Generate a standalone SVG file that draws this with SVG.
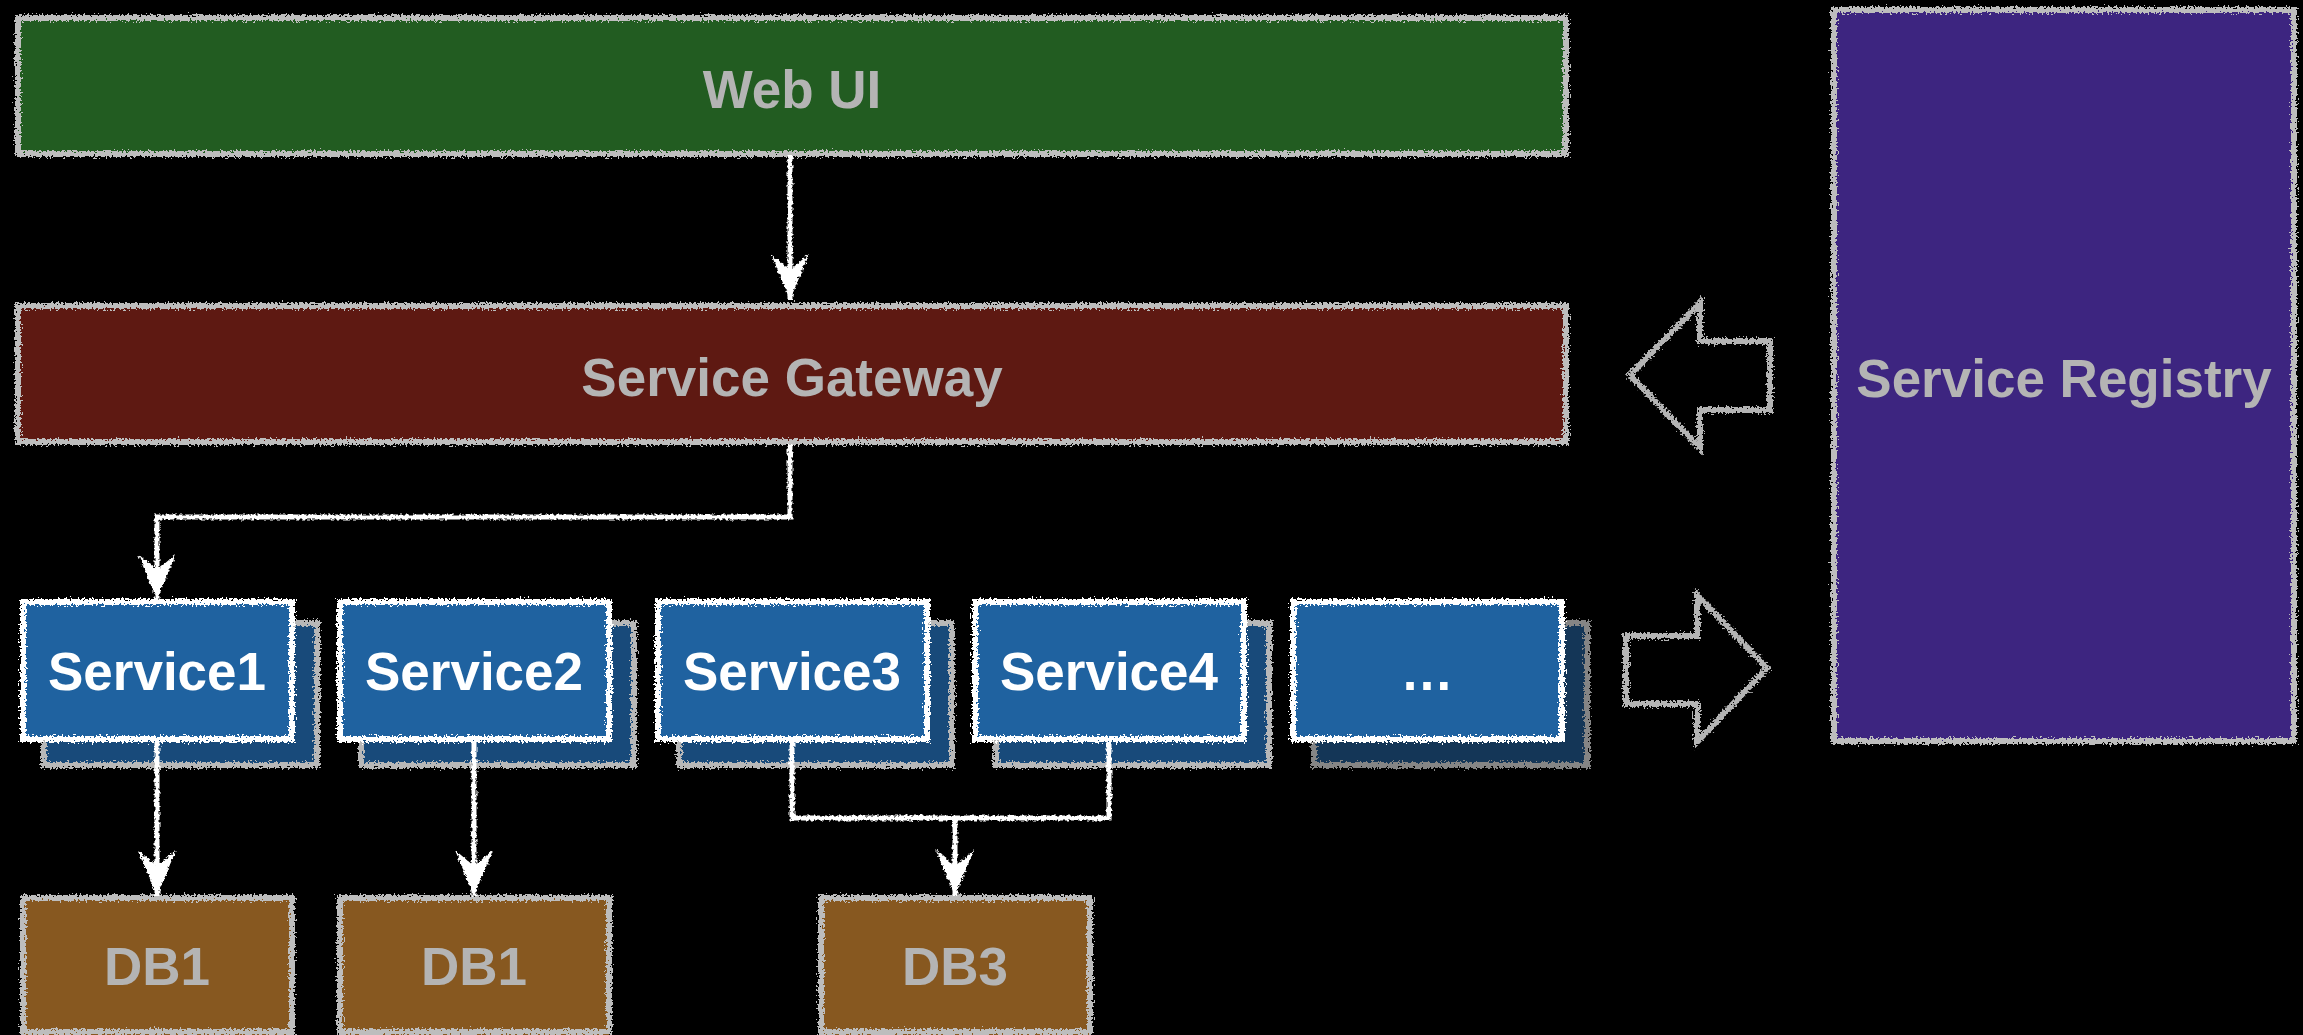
<svg xmlns="http://www.w3.org/2000/svg" width="2303" height="1035" viewBox="0 0 2303 1035">
<style>
.bg{fill:#000}
.lbl{font-family:"Liberation Sans",Arial,sans-serif;font-weight:bold;font-size:53px;text-anchor:middle}
.gray{fill:#b4b4b4}
.white{fill:#ffffff}
.edge{fill:none;stroke:#bdbdbd;stroke-width:6;filter:url(#rough)}
.edgew{fill:none;stroke:#ffffff;stroke-width:6;filter:url(#rough)}
.edges{fill:none;stroke:#b8b8b8;stroke-width:6;filter:url(#rough)}
.edged{fill:none;stroke:#858585;stroke-width:6;filter:url(#rough)}
.conn{fill:none;stroke:#ffffff;stroke-width:5;filter:url(#rough2);marker-end:url(#head)}
.connplain{fill:none;stroke:#ffffff;stroke-width:5;filter:url(#rough2)}
.hollow{fill:none;stroke:#b4b4b4;stroke-width:6;stroke-linejoin:miter;filter:url(#rough)}
</style>
<defs>
<filter id="rough" filterUnits="userSpaceOnUse" x="0" y="0" width="2303" height="1035">
<feTurbulence type="fractalNoise" baseFrequency="0.5" numOctaves="2" seed="4" result="n"/>
<feDisplacementMap in="SourceGraphic" in2="n" scale="9" xChannelSelector="R" yChannelSelector="G"/>
</filter>
<filter id="rough2" filterUnits="userSpaceOnUse" x="0" y="0" width="2303" height="1035">
<feTurbulence type="fractalNoise" baseFrequency="0.35" numOctaves="2" seed="9" result="n"/>
<feDisplacementMap in="SourceGraphic" in2="n" scale="5" xChannelSelector="R" yChannelSelector="G"/>
</filter>
<marker id="head" markerUnits="userSpaceOnUse" markerWidth="54" markerHeight="54" viewBox="-50 -27 54 54" refX="0" refY="0" orient="auto">
<path d="M0,0 L-46,-19 L-30,0 L-46,19 Z" fill="#ffffff"/>
</marker>
</defs>
<rect class="bg" x="0" y="0" width="2303" height="1035"/>

<g id="web-ui">
<rect x="18" y="18" width="1548" height="136" fill="#225c21"/>
<rect class="edge" x="18" y="18" width="1548" height="136"/>
<text class="lbl gray" x="792" y="108">Web UI</text>
</g>

<g id="service-gateway">
<rect x="18" y="306" width="1548" height="136" fill="#5e1912"/>
<rect class="edge" x="18" y="306" width="1548" height="136"/>
<text class="lbl gray" x="792" y="396">Service Gateway</text>
</g>

<g id="service-registry">
<rect x="1834" y="10" width="460" height="731" fill="#3d2580"/>
<rect class="edge" x="1834" y="10" width="460" height="731"/>
<text class="lbl gray" x="2064" y="397">Service Registry</text>
</g>

<g id="arrow-to-gateway">
<polygon class="hollow" points="1630,375 1700,303 1700,341 1770,341 1770,410 1700,410 1700,448"/>
</g>

<g id="arrow-to-registry">
<polygon class="hollow" points="1626,636 1697,636 1697,595 1767,668 1697,742 1697,704 1626,704"/>
</g>

<g id="service1">
<rect x="44" y="623" width="273" height="142" fill="#184a7a"/>
<rect class="edges" x="44" y="623" width="273" height="142"/>
<rect x="23" y="602" width="269" height="137" fill="#1f62a0"/>
<rect class="edgew" x="23" y="602" width="269" height="137"/>
<text class="lbl white" x="157" y="690">Service1</text>
</g>

<g id="service2">
<rect x="361" y="623" width="273" height="142" fill="#184a7a"/>
<rect class="edges" x="361" y="623" width="273" height="142"/>
<rect x="340" y="602" width="269" height="137" fill="#1f62a0"/>
<rect class="edgew" x="340" y="602" width="269" height="137"/>
<text class="lbl white" x="474" y="690">Service2</text>
</g>

<g id="service3">
<rect x="679" y="623" width="273" height="142" fill="#184a7a"/>
<rect class="edges" x="679" y="623" width="273" height="142"/>
<rect x="658" y="602" width="269" height="137" fill="#1f62a0"/>
<rect class="edgew" x="658" y="602" width="269" height="137"/>
<text class="lbl white" x="792" y="690">Service3</text>
</g>

<g id="service4">
<rect x="996" y="623" width="273" height="142" fill="#184a7a"/>
<rect class="edges" x="996" y="623" width="273" height="142"/>
<rect x="975" y="602" width="269" height="137" fill="#1f62a0"/>
<rect class="edgew" x="975" y="602" width="269" height="137"/>
<text class="lbl white" x="1109" y="690">Service4</text>
</g>

<g id="service-more">
<rect x="1314" y="623" width="273" height="142" fill="#143657"/>
<rect class="edged" x="1314" y="623" width="273" height="142"/>
<rect x="1293" y="602" width="269" height="137" fill="#1f62a0"/>
<rect class="edgew" x="1293" y="602" width="269" height="137"/>
<text class="lbl white" x="1427" y="690">…</text>
</g>

<g id="db1-a">
<rect x="23" y="898" width="269" height="137" fill="#875820"/>
<rect class="edge" x="23" y="898" width="269" height="134"/>
<text class="lbl gray" x="157" y="985">DB1</text>
</g>

<g id="db1-b">
<rect x="340" y="898" width="269" height="137" fill="#875820"/>
<rect class="edge" x="340" y="898" width="269" height="134"/>
<text class="lbl gray" x="474" y="985">DB1</text>
</g>

<g id="db3">
<rect x="821" y="898" width="269" height="137" fill="#875820"/>
<rect class="edge" x="821" y="898" width="269" height="134"/>
<text class="lbl gray" x="955" y="985">DB3</text>
</g>

<g id="connectors">
<path class="conn" d="M790,156 V300"/>
<path class="conn" d="M790,444 V517 H157 V600"/>
<path class="conn" d="M157,741 V896"/>
<path class="conn" d="M474,741 V896"/>
<path class="connplain" d="M792,741 V818 H1109 V741"/>
<path class="conn" d="M955,818 V896"/>
</g>
</svg>
